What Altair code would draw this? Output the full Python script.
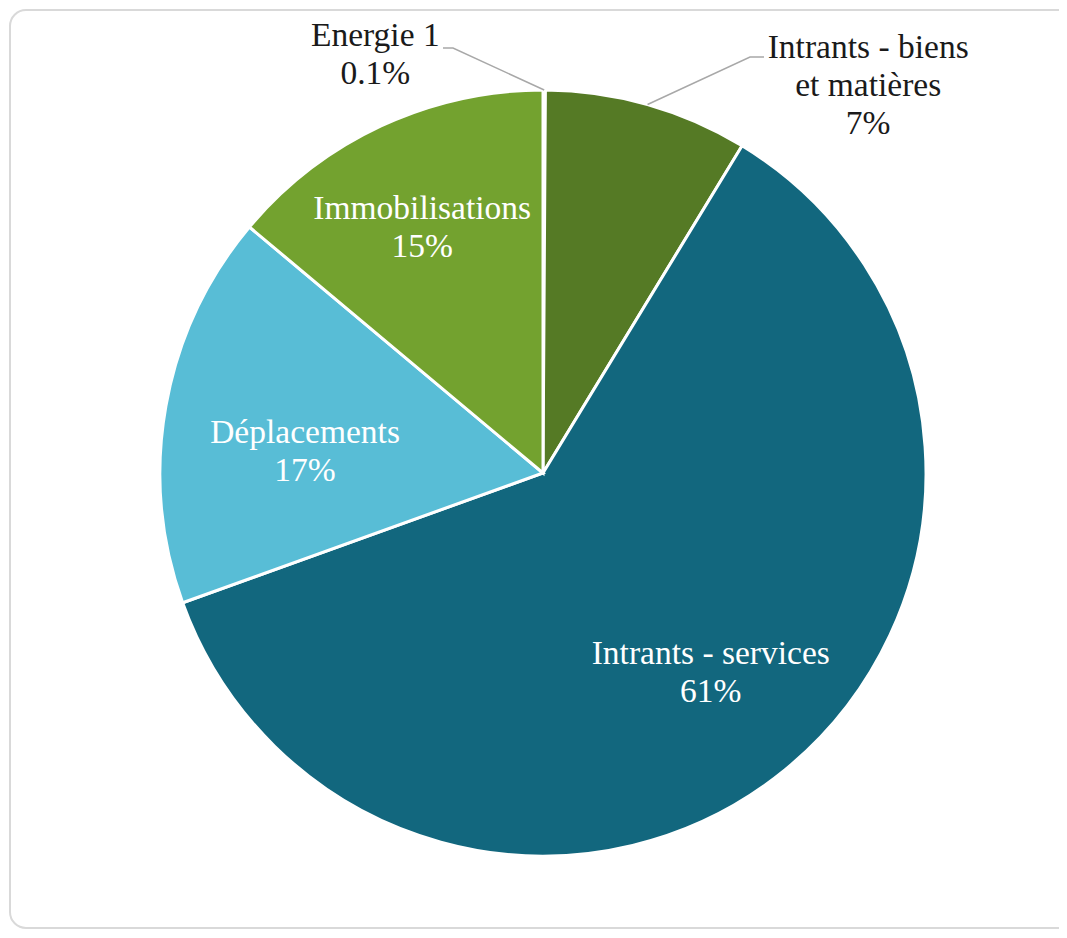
import math
import altair as alt
import pandas as pd

# ---- data ----
categories = ["Energie 1", "Intrants - biens et matières", "Intrants - services",
              "Déplacements", "Immobilisations"]
shares = [0.1, 8.6, 60.8, 16.6, 13.9]          # slice sizes (angles measured on the picture)
pct_labels = ["0.1%", "7%", "61%", "17%", "15%"]  # percentages printed on the chart
label_names = ["Energie 1", "Intrants - biens\net matières", "Intrants - services",
               "Déplacements", "Immobilisations"]
colors = ["#9CC068", "#557A25", "#12677E", "#58BDD6", "#73A22F"]

df = pd.DataFrame({
    "cat": categories,
    "share": shares,
    "idx": list(range(len(categories))),
    "name": label_names,
    "pct": pct_labels,
})

PAD_L, PAD_T = 19, 8
W, H = 1032, 914
CX, CY = W / 2, H / 2
R = 383
LH = 38

color_scale = alt.Scale(domain=categories, range=colors)

base = alt.Chart(df).encode(
    theta=alt.Theta("share:Q", stack=True),
    order=alt.Order("idx:Q"),
)

pie = base.mark_arc(outerRadius=R, stroke="white", strokeWidth=3).encode(
    color=alt.Color("cat:N", scale=color_scale, legend=None, sort=None)
)

FONT = "Liberation Serif"


def label_layer(cat, radius, dx, dy, color):
    i = categories.index(cat)
    nlines = label_names[i].count("\n") + 2
    return base.transform_calculate(
        lab=f"datum.cat === {cat!r} ? datum.name + '\\n' + datum.pct : ''"
    ).mark_text(
        radius=radius, dx=dx, dy=dy - (nlines - 1) * LH / 2, font=FONT, fontSize=33.5,
        color=color, lineBreak="\n", lineHeight=LH, align="center", baseline="middle",
    ).encode(text="lab:N")


labels = [
    label_layer("Energie 1", 418, -169, 0, "#1a1a1a"),
    label_layer("Intrants - biens et matières", 400, 216, -2, "#1a1a1a"),
    label_layer("Intrants - services", 262, 2, -3, "white"),
    label_layer("Déplacements", 262, 20, 25, "white"),
    label_layer("Immobilisations", 262, -10, -8, "white"),
]

# leader lines from the slice mid-angle on the rim to the outside labels
cum = 0.0
mids = []
for s in shares:
    mids.append((cum + s / 2) / sum(shares) * 2 * math.pi)
    cum += s

rows = []
elbows = {0: [(426, 32), (416, 32)], 1: [(723, 41), (737, 41)]}
for i, pts in elbows.items():
    a = mids[i]
    start = (CX + R * math.sin(a), CY - R * math.cos(a))
    for k, (x, y) in enumerate([start] + pts):
        rows.append({"seg": categories[i], "k": k, "x": x, "y": y})
lines_df = pd.DataFrame(rows)

leaders = alt.Chart(lines_df).mark_line(color="#a8a8a8", strokeWidth=1.5).encode(
    x=alt.X("x:Q", scale=None, axis=None),
    y=alt.Y("y:Q", scale=None, axis=None),
    detail="seg:N",
    order="k:Q",
)

# card frame (decoration)
frame = alt.Chart(pd.DataFrame({"a": [0]})).mark_rect(
    fill="white", stroke="#d9d9d9", strokeWidth=2, cornerRadius=16
).encode(
    x=alt.value(-17), x2=alt.value(W + 60), y=alt.value(-6), y2=alt.value(H - 2)
)

chart = alt.layer(frame, pie, leaders, *labels).properties(
    width=W, height=H,
    padding={"left": PAD_L, "top": PAD_T, "right": 0, "bottom": 0},
    autosize=alt.AutoSizeParams(type="none"),
    background="white",
).configure_view(stroke=None)

chart.save("out.html", embed_options={"renderer": "svg", "actions": False})
